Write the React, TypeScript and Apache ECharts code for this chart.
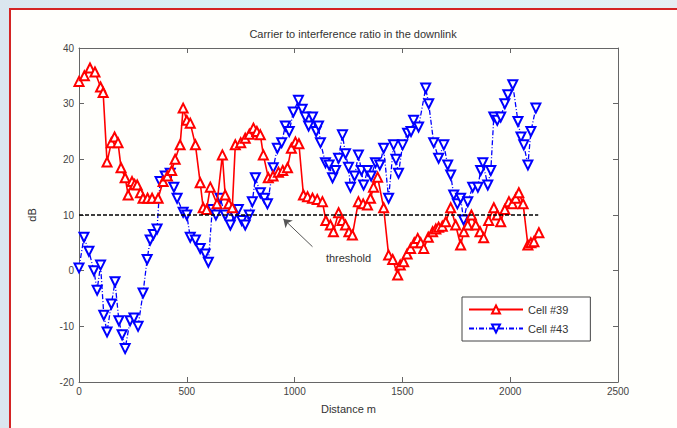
import React, { useEffect, useRef } from "react";
import * as echarts from "echarts";

const chartTitle = "Carrier to interference ratio in the downlink";
const thresholdValue = 10;
const thresholdRange = [0, 2130];

const cell39Dist = [0, 25, 51, 74, 100, 112, 130, 150, 165, 181, 195, 214, 228, 246, 258, 270, 285, 297, 318, 339, 367, 390, 410, 430, 446, 469, 483, 500, 516, 540, 562, 576, 592, 609, 640, 665, 678, 695, 711, 725, 750, 771, 790, 809, 825, 841, 855, 878, 900, 925, 945, 967, 985, 1004, 1020, 1041, 1060, 1083, 1105, 1129, 1145, 1166, 1180, 1204, 1220, 1236, 1252, 1268, 1296, 1318, 1338, 1352, 1366, 1385, 1413, 1436, 1455, 1478, 1490, 1506, 1522, 1538, 1555, 1571, 1585, 1599, 1620, 1640, 1655, 1668, 1685, 1701, 1724, 1747, 1770, 1785, 1803, 1820, 1840, 1860, 1877, 1900, 1924, 1940, 1956, 1975, 1994, 2010, 2026, 2040, 2060, 2082, 2096, 2110, 2133];
const cell39Db = [34, 35, 36.4, 35.7, 33, 32, 19.5, 23, 24, 23, 18.5, 16.7, 13.6, 16, 15.5, 15.4, 14, 13, 13, 13, 13, 16, 17, 18, 20, 22.6, 29.2, 27, 26.5, 22.6, 15.8, 11.3, 11, 15, 12, 20.8, 13.6, 12, 11.3, 22.6, 23, 23.8, 24.5, 25.6, 25, 24.4, 20.8, 16.7, 17, 17.7, 18, 18.5, 22, 23.1, 22.8, 13.6, 13.3, 13, 12.8, 12.4, 9, 8.2, 7, 10.4, 9, 8.2, 7, 6.4, 12.4, 12, 11.8, 13, 15, 16.8, 11.3, 2.8, 2, -0.8, 1, 1.6, 3, 4, 5, 5.8, 5, 4, 6, 7, 7.5, 7.8, 8, 8.8, 11.3, 8.2, 4.6, 7, 8.2, 10, 8.2, 7, 5.9, 9, 11.3, 10, 8.8, 11, 12.4, 12, 13, 14, 12, 4.6, 5, 5.2, 6.8];

const cell43Dist = [0, 23, 46, 69, 84, 100, 115, 130, 150, 167, 185, 200, 214, 237, 255, 274, 297, 316, 330, 345, 362, 376, 400, 423, 440, 455, 483, 500, 516, 540, 562, 585, 600, 618, 635, 655, 678, 702, 720, 739, 755, 771, 790, 804, 818, 841, 860, 874, 901, 920, 940, 957, 975, 994, 1018, 1035, 1050, 1065, 1083, 1100, 1111, 1120, 1143, 1160, 1176, 1190, 1204, 1222, 1236, 1250, 1259, 1278, 1296, 1310, 1320, 1338, 1355, 1375, 1395, 1413, 1436, 1459, 1470, 1482, 1501, 1524, 1540, 1552, 1575, 1608, 1622, 1645, 1668, 1692, 1710, 1724, 1738, 1755, 1770, 1784, 1803, 1826, 1850, 1863, 1873, 1896, 1910, 1924, 1940, 1956, 1975, 1989, 2012, 2036, 2050, 2063, 2082, 2096, 2119];
const cell43Db = [0.5, 6, 3.5, 0, -3.5, 1, -8, -11, -6, -2, -9, -11.5, -14, -9, -8.5, -10, -4, 2, 5.5, 6.5, 7.5, 16, 17, 17.5, 15, 13, 10.5, 10, 6, 5.5, 4, 3, 1.5, 11, 10, 13, 10, 8.2, 10, 11, 9, 8.2, 10, 12.4, 16.7, 14, 13, 12, 18.5, 22, 23, 26, 25, 28.5, 30.6, 29, 27.6, 26, 27.6, 25, 26, 23, 19.4, 19, 16.7, 18, 20.2, 24.4, 21, 18.6, 15, 17, 20.8, 18, 15.4, 18, 17, 19.4, 19, 22, 13, 22.6, 20, 17.5, 22.6, 24.7, 25, 27, 25.8, 32.8, 30, 23, 20.2, 22.6, 19, 17.2, 13.6, 12, 13, 9.1, 12.4, 15, 15, 18, 19.4, 15.4, 18, 27.6, 27, 27.6, 30, 31.6, 33.4, 26.8, 24, 22.6, 19, 25, 29.2];

const annotationText = "threshold";
const annotationTextPos = [1250, 2.3];
const arrowFrom = [1083, 4.3];
const arrowTo = [948, 9.3];

function pairs(xs: number[], ys: number[]) {
  return xs.map((x, i) => [x, ys[i]]);
}

export default function App() {
  const ref = useRef<HTMLDivElement>(null);
  useEffect(() => {
    if (!ref.current) return;
    const chart = echarts.init(ref.current, null, { renderer: "svg" });
    const font = "Liberation Sans, Arial, sans-serif";
    const axisColor = "#666";
    const labelColor = "#444";
    const boxAxis = (extra: any) => ({
      type: "value",
      axisLine: { show: true, onZero: false, lineStyle: { color: axisColor } },
      axisTick: { show: true, inside: true, length: 5, lineStyle: { color: axisColor } },
      splitLine: { show: false },
      ...extra,
    });
    chart.setOption({
      animation: false,
      backgroundColor: {
        type: "linear",
        x: 0, y: 0, x2: 1, y2: 0,
        colorStops: [
          { offset: 0, color: "#dbe6ef" },
          { offset: 0.5, color: "#d6f6f8" },
          { offset: 1, color: "#e6eef2" },
        ],
      },
      textStyle: { fontFamily: font },
      graphic: [
        {
          type: "rect",
          z: -10,
          silent: true,
          shape: { x: 10, y: 9, width: 680, height: 430 },
          style: { fill: "#fffffc", stroke: "#d42424", lineWidth: 2 },
        },
      ],
      title: {
        text: chartTitle,
        left: 348,
        textAlign: "center",
        top: 23,
        textStyle: { fontSize: 11, fontWeight: "normal", color: "#333", fontFamily: font },
      },
      grid: { left: 79, right: 59, top: 48, bottom: 46, show: false },
      legend: {
        data: ["Cell #39", "Cell #43"],
        orient: "vertical",
        left: 462,
        top: 297,
        padding: [7, 22, 7, 6],
        itemGap: 8,
        itemWidth: 54,
        itemHeight: 10,
        borderColor: "#444",
        borderWidth: 1,
        borderRadius: 0,
        backgroundColor: "#fff",
        textStyle: { fontSize: 11, color: "#333", fontFamily: font },
      },
      xAxis: [
        boxAxis({
          min: 0,
          max: 2500,
          interval: 500,
          name: "Distance m",
          nameLocation: "middle",
          nameGap: 21,
          nameTextStyle: { fontSize: 11, color: "#333" },
          axisLabel: { color: labelColor, fontSize: 10, margin: 4, formatter: (v: number) => String(v) },
        }),
        boxAxis({
          position: "top",
          min: 0,
          max: 2500,
          interval: 500,
          axisLabel: { show: false },
        }),
      ],
      yAxis: [
        boxAxis({
          min: -20,
          max: 40,
          interval: 10,
          name: "dB",
          nameLocation: "middle",
          nameGap: 42,
          nameTextStyle: { fontSize: 11, color: "#333" },
          axisLabel: { color: labelColor, fontSize: 10, margin: 5, formatter: (v: number) => String(v) },
        }),
        boxAxis({
          position: "right",
          min: -20,
          max: 40,
          interval: 10,
          axisLabel: { show: false },
        }),
      ],
      series: [
        {
          name: "threshold",
          type: "line",
          data: [
            [thresholdRange[0], thresholdValue],
            [thresholdRange[1], thresholdValue],
          ],
          symbol: "none",
          silent: true,
          z: 5,
          lineStyle: { color: "#000", width: 1.5, type: [4, 2] },
          markLine: {
            silent: true,
            symbol: ["none", "arrow"],
            symbolSize: 8,
            label: { show: false },
            lineStyle: { color: "#555", width: 1, type: "solid" },
            data: [[{ coord: arrowFrom }, { coord: arrowTo, itemStyle: { color: "#000" } }]],
          },
          markPoint: {
            silent: true,
            symbol: "circle",
            symbolSize: 1,
            itemStyle: { color: "rgba(0,0,0,0)" },
            label: {
              show: true,
              formatter: annotationText,
              color: "#333",
              fontSize: 11,
              position: "inside",
            },
            data: [{ coord: annotationTextPos }],
          },
        },
        {
          name: "Cell #43",
          type: "line",
          data: pairs(cell43Dist, cell43Db),
          symbol: "emptyTriangle",
          symbolRotate: 180,
          symbolSize: 9,
          z: 3,
          itemStyle: { color: "#0000ff", borderWidth: 1.2 },
          lineStyle: { color: "#0000ff", width: 1.3, type: [5, 2, 1, 2] },
        },
        {
          name: "Cell #39",
          type: "line",
          data: pairs(cell39Dist, cell39Db),
          symbol: "emptyTriangle",
          symbolSize: 9,
          z: 4,
          itemStyle: { color: "#ff0000", borderWidth: 1.2 },
          lineStyle: { color: "#ff0000", width: 1.6 },
        },
      ],
    });
    return () => chart.dispose();
  }, []);
  return (
    <div
      ref={ref}
      style={{ position: "absolute", left: 0, top: 0, width: 677, height: 428 }}
    />
  );
}
